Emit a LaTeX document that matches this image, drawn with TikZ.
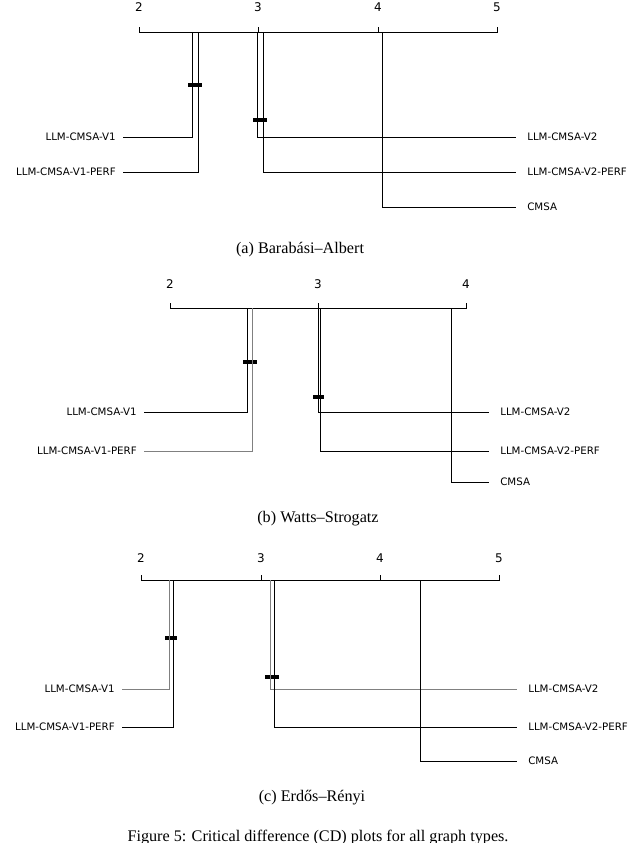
\documentclass[tikz,border=0pt]{standalone}
\usepackage{fontspec}
\setmainfont{Liberation Serif}
\newfontfamily\cdsans{DejaVu Sans}
\begin{document}
\begin{tikzpicture}[x=0.025cm, y=-0.025cm, >=stealth,
    lbl/.style={font=\cdsans\fontsize{7.3}{8}\selectfont, inner sep=0pt},
    num/.style={font=\cdsans\fontsize{8.5}{9}\selectfont, inner sep=0pt},
    subcap/.style={font=\fontsize{11.5}{13}\selectfont, inner sep=0pt},
    cd/.style={line width=2.6pt},
    wire/.style={line width=0.6pt}]

\useasboundingbox (0,0) rectangle (640,843);
\clip (0,0) rectangle (640,843);

% (a) Barabasi-Albert

    \draw[wire] (139,27) -- (139,32) -- (497,32) -- (497,27);
    \draw[wire] (258,27) -- (258,32);
    \draw[wire] (378,27) -- (378,32);
    \foreach \v/\px in {2/139, 3/258, 4/378, 5/497}
        \node[num] at (\px,7) {\v};
    \draw[cd] (188,85) -- (202,85);
    \draw[cd] (253,120) -- (267,120);

    \node[lbl, anchor=east] (a1) at (116,137) {LLM-CMSA-V1};
    \node[lbl, anchor=east] (a2) at (116,172) {LLM-CMSA-V1-PERF};
    \node[lbl, anchor=west] (a3) at (527,137) {LLM-CMSA-V2};
    \node[lbl, anchor=west] (a4) at (527,172) {LLM-CMSA-V2-PERF};
    \node[lbl, anchor=west] (a5) at (527,207) {CMSA};
    \coordinate (ta1) at (192,32);
    \coordinate (ta2) at (198,32);
    \coordinate (ta3) at (257,32);
    \coordinate (ta4) at (263,32);
    \coordinate (ta5) at (382,32);
    \draw[wire] ([xshift=5pt]a1.east) -| (ta1);
    \draw[wire] ([xshift=5pt]a2.east) -| (ta2);
    \draw[wire] ([xshift=-8pt]a3.west) -| (ta3);
    \draw[wire] ([xshift=-8pt]a4.west) -| (ta4);
    \draw[wire] ([xshift=-8pt]a5.west) -| (ta5);
    \node[subcap] (capa) at (300,250) {(a) Barabási--Albert};

% (b) Watts-Strogatz

    \draw[wire] (170,303) -- (170,308) -- (466,308) -- (466,303);
    \draw[wire] (318,303) -- (318,308);
    \foreach \v/\px in {2/170, 3/318, 4/466}
        \node[num] at (\px,284) {\v};
    \draw[cd] (243,362) -- (257,362);
    \draw[cd] (313,397) -- (324,397);

    \node[lbl, anchor=east] (b1) at (137,412) {LLM-CMSA-V1};
    \node[lbl, anchor=east] (b2) at (137,451) {LLM-CMSA-V1-PERF};
    \node[lbl, anchor=west] (b3) at (500,412) {LLM-CMSA-V2};
    \node[lbl, anchor=west] (b4) at (500,451) {LLM-CMSA-V2-PERF};
    \node[lbl, anchor=west] (b5) at (500,482) {CMSA};
    \coordinate (tb1) at (247,308);
    \coordinate (tb2) at (252,308);
    \coordinate (tb3) at (318,308);
    \coordinate (tb4) at (320,308);
    \coordinate (tb5) at (451,308);
    \draw[wire] ([xshift=5pt]b1.east) -| (tb1);
    \draw[wire, gray] ([xshift=5pt]b2.east) -| (tb2);
    \draw[wire] ([xshift=-8pt]b3.west) -| (tb3);
    \draw[wire] ([xshift=-8pt]b4.west) -| (tb4);
    \draw[wire] ([xshift=-8pt]b5.west) -| (tb5);
    \node[subcap] (capb) at (318,519) {(b) Watts--Strogatz};

% (c) Erdos-Renyi

    \draw[wire] (141,575) -- (141,580) -- (499,580) -- (499,575);
    \draw[wire] (261,575) -- (261,580);
    \draw[wire] (380,575) -- (380,580);
    \foreach \v/\px in {2/141, 3/261, 4/380, 5/499}
        \node[num] at (\px,558) {\v};
    \draw[cd] (165,638) -- (177,638);
    \draw[cd] (265,677) -- (279,677);

    \node[lbl, anchor=east] (c1) at (115,689) {LLM-CMSA-V1};
    \node[lbl, anchor=east] (c2) at (115,727) {LLM-CMSA-V1-PERF};
    \node[lbl, anchor=west] (c3) at (528,689) {LLM-CMSA-V2};
    \node[lbl, anchor=west] (c4) at (528,727) {LLM-CMSA-V2-PERF};
    \node[lbl, anchor=west] (c5) at (528,761) {CMSA};
    \coordinate (tc1) at (169,580);
    \coordinate (tc2) at (173,580);
    \coordinate (tc3) at (270,580);
    \coordinate (tc4) at (274,580);
    \coordinate (tc5) at (420,580);
    \draw[wire, gray] ([xshift=5pt]c1.east) -| (tc1);
    \draw[wire] ([xshift=5pt]c2.east) -| (tc2);
    \draw[wire, gray] ([xshift=-8pt]c3.west) -| (tc3);
    \draw[wire] ([xshift=-8pt]c4.west) -| (tc4);
    \draw[wire] ([xshift=-8pt]c5.west) -| (tc5);
    \node[subcap] (capc) at (312,798) {(c) Erdős--Rényi};

    \node[subcap] (fig) at (318,838) {Figure 5: Critical difference (CD) plots for all graph types.};

\end{tikzpicture}
\end{document}
